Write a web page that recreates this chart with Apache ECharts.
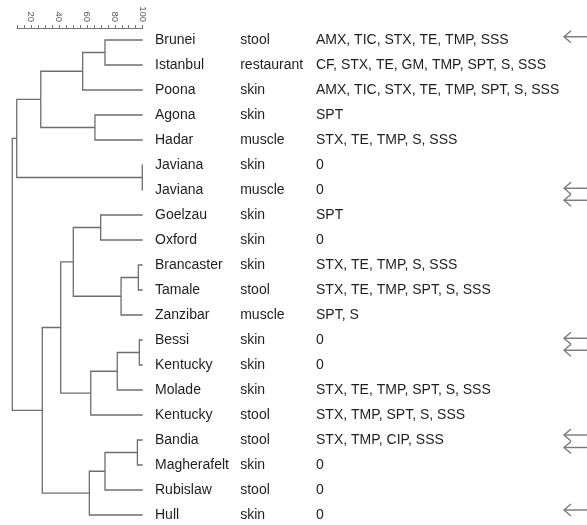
<!DOCTYPE html>
<html><head><meta charset="utf-8">
<script src="https://cdn.jsdelivr.net/npm/echarts@6/dist/echarts.min.js"></script>
<style>html,body{margin:0;padding:0;background:#fff}#c{width:587px;height:525px}</style>
</head><body><div id="c"></div>
<script>
// Leaves in display order (top to bottom)
const isolates = ['Brunei','Istanbul','Poona','Agona','Hadar','Javiana','Javiana','Goelzau','Oxford','Brancaster','Tamale','Zanzibar','Bessi','Kentucky','Molade','Kentucky','Bandia','Magherafelt','Rubislaw','Hull'];
const sources = ['stool','restaurant','skin','skin','muscle','skin','muscle','skin','skin','skin','stool','muscle','skin','skin','skin','stool','stool','skin','stool','skin'];
const resistance = ['AMX, TIC, STX, TE, TMP, SSS','CF, STX, TE, GM, TMP, SPT, S, SSS','AMX, TIC, STX, TE, TMP, SPT, S, SSS','SPT','STX, TE, TMP, S, SSS','0','0','SPT','0','STX, TE, TMP, S, SSS','STX, TE, TMP, SPT, S, SSS','SPT, S','0','0','STX, TE, TMP, SPT, S, SSS','STX, TMP, SPT, S, SSS','STX, TMP, CIP, SSS','0','0','0'];
// Merge matrix (negative = leaf number, positive = earlier merge number), similarity (%)
const mergeLeft   = [-1, 1, -4, 2, -6, 4, -8, -10, 8, 7, -13, 11, 12, 10, -17, 15, 16, 14, 6];
const mergeRight  = [-2, -3, -5, 3, -7, 5, -9, -11, -12, 9, -14, -15, -16, 13, -18, -19, -20, 17, 18];
const mergeHeight = [73.0, 57.0, 65.8, 27.0, 99.7, 9.8, 69.9, 96.9, 84.5, 50.3, 97.6, 81.8, 62.8, 41.3, 96.2, 73.0, 61.8, 28.1, 6.6];
const axisLabels = [20, 40, 60, 80, 100];
// Marker arrows on the right edge, in row units
const arrowRows = [-0.13, 5.93, 6.41, 11.93, 12.41, 15.8, 16.3, 18.8];

const LEAF = 100;
const nodeX = [], nodeY = [];
function xOf(k){ return k < 0 ? LEAF : nodeX[k-1]; }
function yOf(k){ return k < 0 ? (-k - 1) : nodeY[k-1]; }
for (let i = 0; i < mergeHeight.length; i++) {
  nodeX.push(mergeHeight[i]);
  nodeY.push((yOf(mergeLeft[i]) + yOf(mergeRight[i])) / 2);
}

const LINE = '#6e6e6e';
const chart = echarts.init(document.getElementById('c'), null, {renderer:'canvas'});
chart.setOption({
  animation: false,
  backgroundColor: '#fff',
  grid: { left: 17.03, right: 444.3, top: 28, bottom: 10, containLabel: false },
  xAxis: {
    type: 'value', position: 'top', min: 10, max: 100, interval: 5,
    axisLine: { show: true, onZero: false, lineStyle: { color: '#777', width: 1 } },
    axisTick: { show: true, length: 3, lineStyle: { color: '#777', width: 1 } },
    axisLabel: {
      rotate: 90, fontSize: 9.5, color: '#555', margin: 6, fontFamily: 'Liberation Sans, Arial',
      formatter: v => axisLabels.includes(v) ? String(v) : ''
    },
    splitLine: { show: false }
  },
  yAxis: { type: 'value', min: -0.48, max: 19, inverse: true, show: false },
  series: [
    {
      type: 'custom', clip: false, silent: true,
      data: mergeHeight.map((h, i) => [h, nodeY[i]]),
      renderItem: function (params, api) {
        const i = params.dataIndex;
        const h = mergeHeight[i];
        const l = mergeLeft[i], r = mergeRight[i];
        const pts = [
          api.coord([xOf(l), yOf(l)]),
          api.coord([h, yOf(l)]),
          api.coord([h, yOf(r)]),
          api.coord([xOf(r), yOf(r)])
        ];
        return { type: 'polyline', shape: { points: pts }, style: { stroke: LINE, lineWidth: 1.3, fill: null } };
      }
    },
    {
      type: 'custom', clip: false, silent: true,
      data: isolates.map((n, i) => [LEAF, i]),
      renderItem: function (params, api) {
        const i = params.dataIndex;
        const p = api.coord([LEAF, i]);
        const base = { fill: '#1e1e1e', fontSize: 14, fontFamily: 'Liberation Sans, Arial', verticalAlign: 'middle', align: 'left' };
        return { type: 'group', children: [
          { type: 'text', style: Object.assign({}, base, { text: isolates[i], x: p[0] + 12.3, y: p[1] }) },
          { type: 'text', style: Object.assign({}, base, { text: sources[i], x: p[0] + 97.5, y: p[1] }) },
          { type: 'text', style: Object.assign({}, base, { text: resistance[i], x: p[0] + 173.3, y: p[1] }) }
        ]};
      }
    },
    {
      type: 'custom', clip: false, silent: true,
      data: arrowRows.map(r => [LEAF, r]),
      renderItem: function (params, api) {
        const y = api.coord([LEAF, arrowRows[params.dataIndex]])[1];
        const W = api.getWidth();
        const tip = W - 23;
        return { type: 'group', children: [
          { type: 'line', shape: { x1: tip, y1: y, x2: W, y2: y }, style: { stroke: '#777', lineWidth: 1.4 } },
          { type: 'polyline', shape: { points: [[tip + 7, y - 6], [tip, y], [tip + 7, y + 6]] }, style: { stroke: '#777', lineWidth: 1.3, fill: null } }
        ]};
      }
    }
  ]
});
</script></body></html>
